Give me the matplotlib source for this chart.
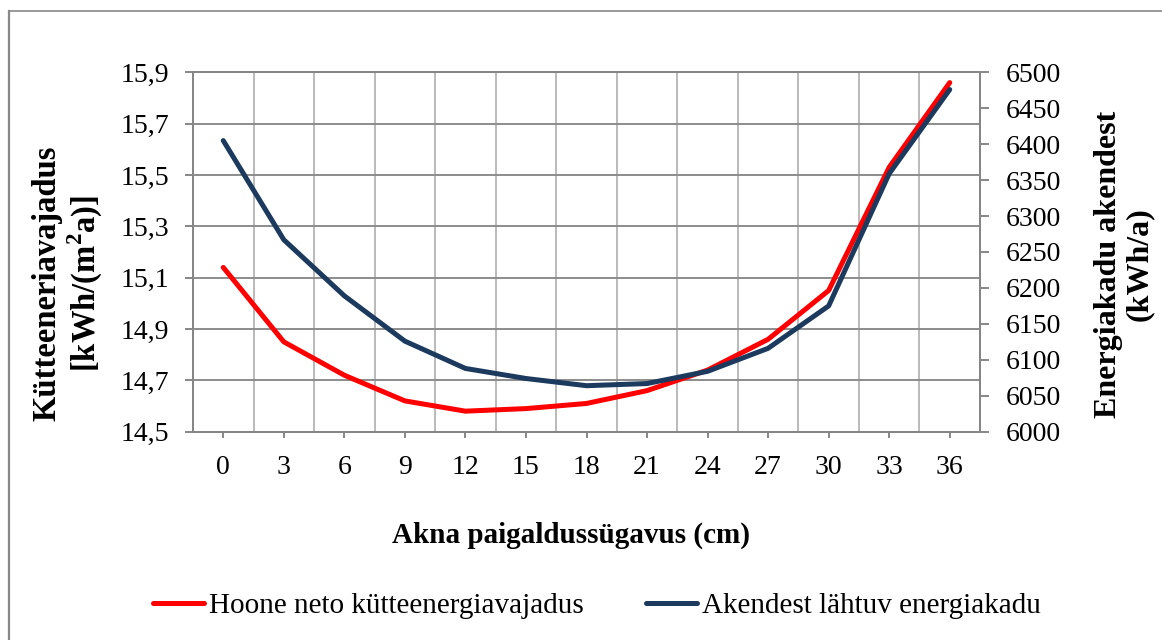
import matplotlib
matplotlib.use("Agg")
import matplotlib.pyplot as plt
from matplotlib.lines import Line2D
from matplotlib.ticker import FuncFormatter, MultipleLocator

# Installation depth of the window (cm)
depth_cm = [0, 3, 6, 9, 12, 15, 18, 21, 24, 27, 30, 33, 36]

# Net heating energy demand of the building, kWh/(m²a) — left axis
heating_demand = [15.14, 14.85, 14.72, 14.62, 14.58, 14.59, 14.61,
                  14.66, 14.74, 14.86, 15.05, 15.53, 15.86]

# Energy loss through the windows, kWh/a — right axis
window_loss = [6405, 6267, 6189, 6126, 6088, 6074, 6064,
               6067, 6084, 6116, 6175, 6359, 6476]

left_ticks = [14.5, 14.7, 14.9, 15.1, 15.3, 15.5, 15.7, 15.9]
right_ticks = list(range(6000, 6501, 50))

RED = "#FF0000"
NAVY = "#1B3A5E"
AXIS_GREY = "#868686"
GRID_H = "#8C8C8C"
GRID_V = "#BABABA"
FONT = "Liberation Serif"

plt.rcParams["font.family"] = [FONT, "DejaVu Serif"]

W, H = 1162, 640
fig = plt.figure(figsize=(W / 100, H / 100), dpi=100)
fig.patch.set_facecolor("white")

# plot area in pixel coordinates
x0, x1, ytop, ybot = 193, 980, 72.3, 431.7
ax = fig.add_axes([x0 / W, 1 - ybot / H, (x1 - x0) / W, (ybot - ytop) / H])
ax2 = ax.twinx()

ax.plot(depth_cm, heating_demand, color=RED, lw=3.6, solid_capstyle="round",
        solid_joinstyle="round", zorder=3)
ax2.plot(depth_cm, window_loss, color=NAVY, lw=3.6, solid_capstyle="round",
         solid_joinstyle="round", zorder=3)

ax.set_xlim(-1.5, 37.5)
ax.set_ylim(14.5, 15.9)
ax2.set_ylim(6000, 6500)

ax.set_xticks(depth_cm)
ax.xaxis.set_minor_locator(MultipleLocator(1.5))
ax.set_yticks(left_ticks)
ax2.set_yticks(right_ticks)

comma = FuncFormatter(lambda v, p: f"{v:.1f}".replace(".", ","))
ax.yaxis.set_major_formatter(comma)
ax2.yaxis.set_major_formatter(FuncFormatter(lambda v, p: f"{v:.0f}"))

# grid: horizontal lines on the left scale, vertical lines every 1.5 cm
ax.grid(True, axis="y", which="major", color=GRID_H, lw=1.4, zorder=0)
ax.grid(True, axis="x", which="minor", color=GRID_V, lw=1.4, zorder=0)
ax.grid(False, axis="x", which="major")
ax.set_axisbelow(True)

for a in (ax, ax2):
    for s in a.spines.values():
        s.set_color(AXIS_GREY)
        s.set_linewidth(1.4)

ax.tick_params(axis="x", which="major", length=4, width=1.4, color=AXIS_GREY,
               labelsize=20, pad=13, direction="out")
ax.tick_params(axis="x", which="minor", length=0)
ax.tick_params(axis="y", which="major", length=6, width=1.4, color=AXIS_GREY,
               labelsize=20, pad=11, direction="out")
ax2.tick_params(axis="y", which="major", length=6.5, width=1.4, color=AXIS_GREY,
                labelsize=20, pad=12, direction="out")
for lab in ax.get_xticklabels() + ax.get_yticklabels() + ax2.get_yticklabels():
    lab.set_fontfamily(FONT)

# axis titles
fig.text(68 / W, 1 - 283 / H, "Kütteeneriavajadus\n[kWh/(m$^{\\mathregular{2}}$a)]",
         rotation=90, ha="center", va="center", fontsize=23.5, fontweight="bold",
         linespacing=1.1)
fig.text(1124 / W, 1 - 264 / H, "Energiakadu akendest\n(kWh/a)",
         rotation=90, ha="center", va="center", fontsize=23, fontweight="bold",
         linespacing=1.1)
fig.text(571 / W, 1 - 535 / H, "Akna paigaldussügavus (cm)",
         ha="center", va="center", fontsize=21, fontweight="bold")

# legend below the plot
handles = [Line2D([], [], color=RED, lw=3.6, solid_capstyle="round"),
           Line2D([], [], color=NAVY, lw=3.6, solid_capstyle="round")]
fig.legend(handles, ["Hoone neto kütteenergiavajadus", "Akendest lähtuv energiakadu"],
           loc="center", bbox_to_anchor=(597 / W, 1 - 606 / H), ncol=2,
           frameon=False, fontsize=21, handlelength=1.75, handletextpad=0.15,
           columnspacing=2.15, borderpad=0, borderaxespad=0)

# chart area frame
fig.add_artist(Line2D([8.5 / W, 1], [1 - 11 / H, 1 - 11 / H], color="#888888",
                      lw=1.2, transform=fig.transFigure))
fig.add_artist(Line2D([8.5 / W, 8.5 / W], [0, 1 - 11 / H], color="#888888",
                      lw=1.6, transform=fig.transFigure))

fig.savefig("out.png", dpi=100, facecolor="white")
